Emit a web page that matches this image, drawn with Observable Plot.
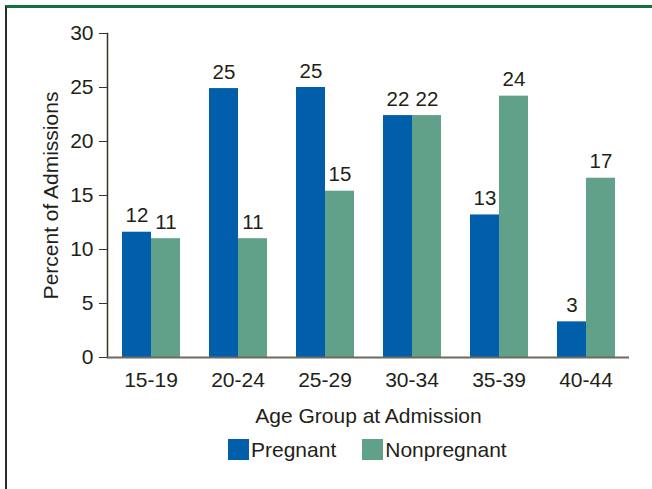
<!DOCTYPE html>
<html><head><meta charset="utf-8">
<script src="https://cdn.jsdelivr.net/npm/d3@7"></script>
<script src="https://cdn.jsdelivr.net/npm/@observablehq/plot@0.6"></script>
<style>
body{margin:0;background:#fff;width:652px;height:489px;overflow:hidden;position:relative;font-family:"Liberation Sans",Arial,sans-serif;color:#231f18}
#frame{position:absolute;left:5px;top:5px;right:0;bottom:0;border-left:2px solid #2b2b2b;border-top:3px solid #15703f;}
#chart{position:absolute;left:0;top:0}
#legend{position:absolute;top:439px;left:228px;display:flex;align-items:center;font-size:21px;line-height:21px}
.item{display:flex;align-items:center;margin-right:26px}
.sw{width:21px;height:21px;margin-right:2px}
</style></head>
<body>
<div id="frame"></div>
<div id="chart"></div>
<div id="legend"></div>
<script>
const ageGroups = ["15-19", "20-24", "25-29", "30-34", "35-39", "40-44"];
const series = ["Pregnant", "Nonpregnant"];
const pregnant = [11.6, 24.9, 25.0, 22.4, 13.2, 3.3];
const nonpregnant = [11.0, 11.0, 15.4, 22.4, 24.2, 16.6];
const pregnantLabels = ["12", "25", "25", "22", "13", "3"];
const nonpregnantLabels = ["11", "11", "15", "22", "24", "17"];
const yTicks = [0, 5, 10, 15, 20, 25, 30];
const colors = ["#005EAA", "#62A189"];

const rows = ageGroups.flatMap((age, i) => [
  {age, series: series[0], value: pregnant[i], label: pregnantLabels[i]},
  {age, series: series[1], value: nonpregnant[i], label: nonpregnantLabels[i]}
]);

const chart = Plot.plot({
  width: 652, height: 430,
  marginLeft: 106, marginRight: 22, marginTop: 33, marginBottom: 73,
  style: {fontFamily: '"Liberation Sans", Arial, sans-serif', fontSize: "21px", color: "#231f18", background: "transparent", overflow: "visible"},
  fx: {domain: ageGroups, padding: 0, label: "Age Group at Admission"},
  x: {domain: series, paddingInner: 0, paddingOuter: 0.455, axis: null},
  y: {domain: [0, 30]},
  color: {domain: series, range: colors},
  marks: [
    Plot.frame({anchor: "left", facetAnchor: "left", stroke: "#3b3326", strokeWidth: 1.5}),
    Plot.barY(rows, {fx: "age", x: "series", y: "value", fill: "series"}),
    Plot.ruleY([0], {stroke: "#6d6a60", strokeWidth: 2}),
    Plot.text(rows, {fx: "age", x: "series", y: "value", text: "label", lineAnchor: "bottom", dy: -10, fontSize: 20.5, fill: "#231f18"}),
    Plot.axisY({ticks: yTicks, tickSize: 8, tickPadding: 6, fontSize: 21, stroke: "#3b3326", label: "Percent of Admissions", labelAnchor: "center", labelArrow: "none", labelOffset: 64}),
    Plot.axisFx({anchor: "bottom", tickSize: 0, tickPadding: 15, fontSize: 21, label: "Age Group at Admission", labelAnchor: "center", labelArrow: "none", labelOffset: 65})
  ]
});
document.getElementById("chart").appendChild(chart);

const legend = document.getElementById("legend");
series.forEach((s, i) => {
  const item = document.createElement("div");
  item.className = "item";
  const sw = document.createElement("div");
  sw.className = "sw";
  sw.style.background = colors[i];
  const t = document.createElement("span");
  t.textContent = s;
  item.appendChild(sw); item.appendChild(t);
  legend.appendChild(item);
});
</script>
</body></html>
